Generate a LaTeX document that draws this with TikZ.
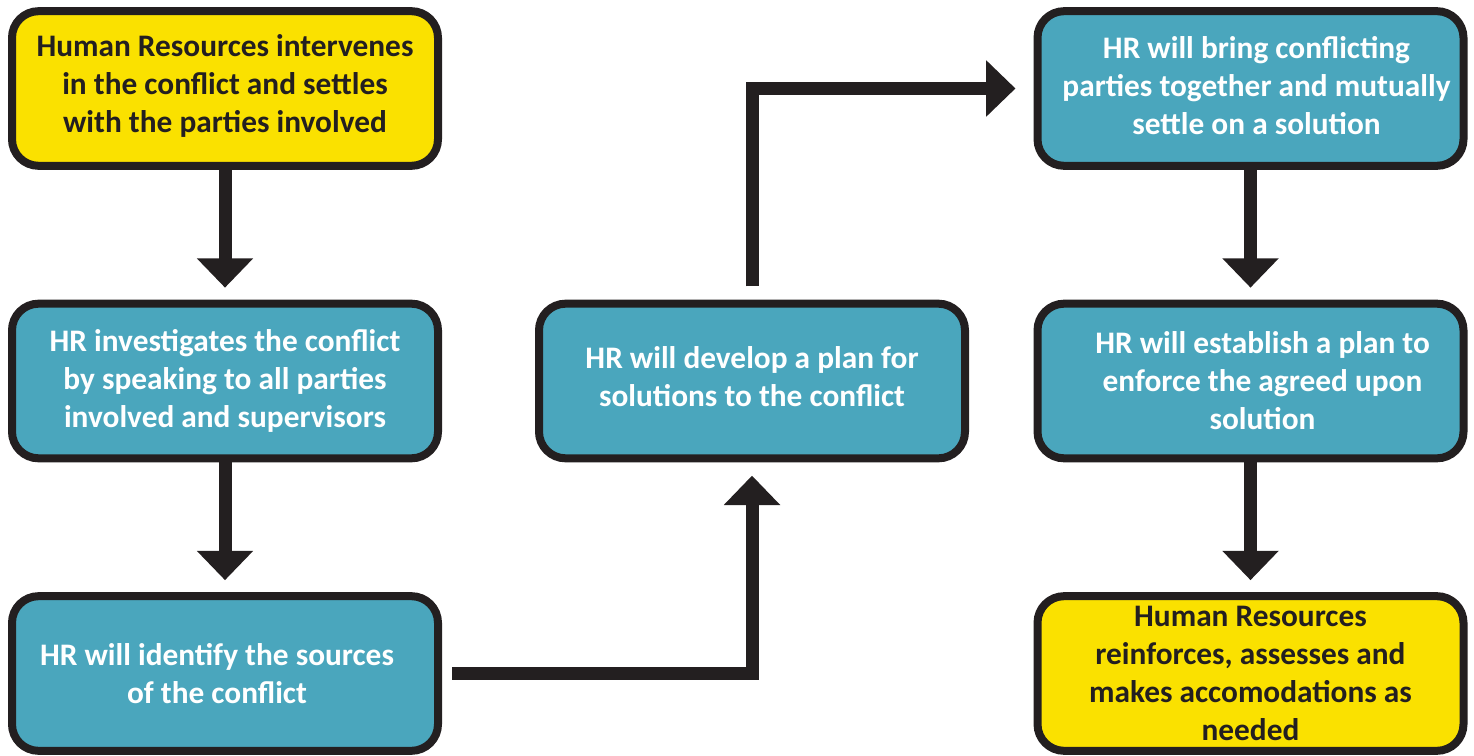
\documentclass[tikz,border=0pt]{standalone}
\usepackage{fontspec}
\setmainfont{Carlito}
\usetikzlibrary{arrows.meta}
\definecolor{teal}{HTML}{4AA6BD}
\definecolor{sun}{HTML}{FAE100}
\definecolor{ink}{HTML}{231F20}
\begin{document}
\begin{tikzpicture}[x=0.75pt,y=-0.75pt,
  stepbox/.style={draw=ink, line width=6pt, rounded corners=20pt,
    minimum width=319.5pt, minimum height=116pt, inner sep=0pt},
  bluebox/.style={stepbox, fill=teal},
  yellowbox/.style={stepbox, fill=sun},
  boxtext/.style={inner sep=0pt, align=center,
    font=\bfseries\fontsize{23.5pt}{28.5pt}\selectfont},
  lighttext/.style={boxtext, text=white},
  darktext/.style={boxtext, text=ink},
  flow/.style={draw=ink, line width=9.75pt, line join=miter,
    -{Triangle[width=41pt,length=22pt]}}]
\useasboundingbox (0,0) rectangle (1474,756);

% left column
\node[yellowbox] (b1) at (225,88.5) {};
\node[darktext] (b1t) at ([yshift=2pt]b1) {Human Resources intervenes\\in the conflict and settles\\with the parties involved};
\node[bluebox] (b2) at (225,381) {};
\node[lighttext] (b2t) at (b2) {HR investigates the conflict\\by speaking to all parties\\involved and supervisors};
\node[bluebox] (b3) at (225,673.5) {};
\node[lighttext] (b3t) at ([xshift=-6pt]b3) {HR will identify the sources\\of the conflict};

% middle
\node[bluebox] (m) at (752,381) {};
\node[lighttext] (mt) at ([yshift=3pt]m) {HR will develop a plan for\\solutions to the conflict};

% right column
\node[bluebox] (r1) at (1250.5,88.5) {};
\node[lighttext] (r1t) at ([xshift=4.5pt,yshift=2pt]r1) {HR will bring conflicting\\parties together and mutually\\settle on a solution};
\node[bluebox] (r2) at (1250.5,381) {};
\node[lighttext] (r2t) at ([xshift=9pt]r2) {HR will establish a plan to\\enforce the agreed upon\\solution};
\node[yellowbox] (r3) at (1250.5,673.5) {};
\node[darktext] (r3t) at (r3) {Human Resources\\reinforces, assesses and\\makes accomodations as\\needed};

% connectors
\draw[flow] (b1.south) -- ([yshift=9pt]b2.north);
\draw[flow] (b2.south) -- ([yshift=9pt]b3.north);
\draw[flow] ([xshift=7.5pt]b3.east) -| ([yshift=-10pt]m.south);
\draw[flow] ([yshift=10pt]m.north) |- ([xshift=-13.5pt]r1.west);
\draw[flow] (r1.south) -- ([yshift=9pt]r2.north);
\draw[flow] (r2.south) -- ([yshift=9pt]r3.north);
\end{tikzpicture}
\end{document}
